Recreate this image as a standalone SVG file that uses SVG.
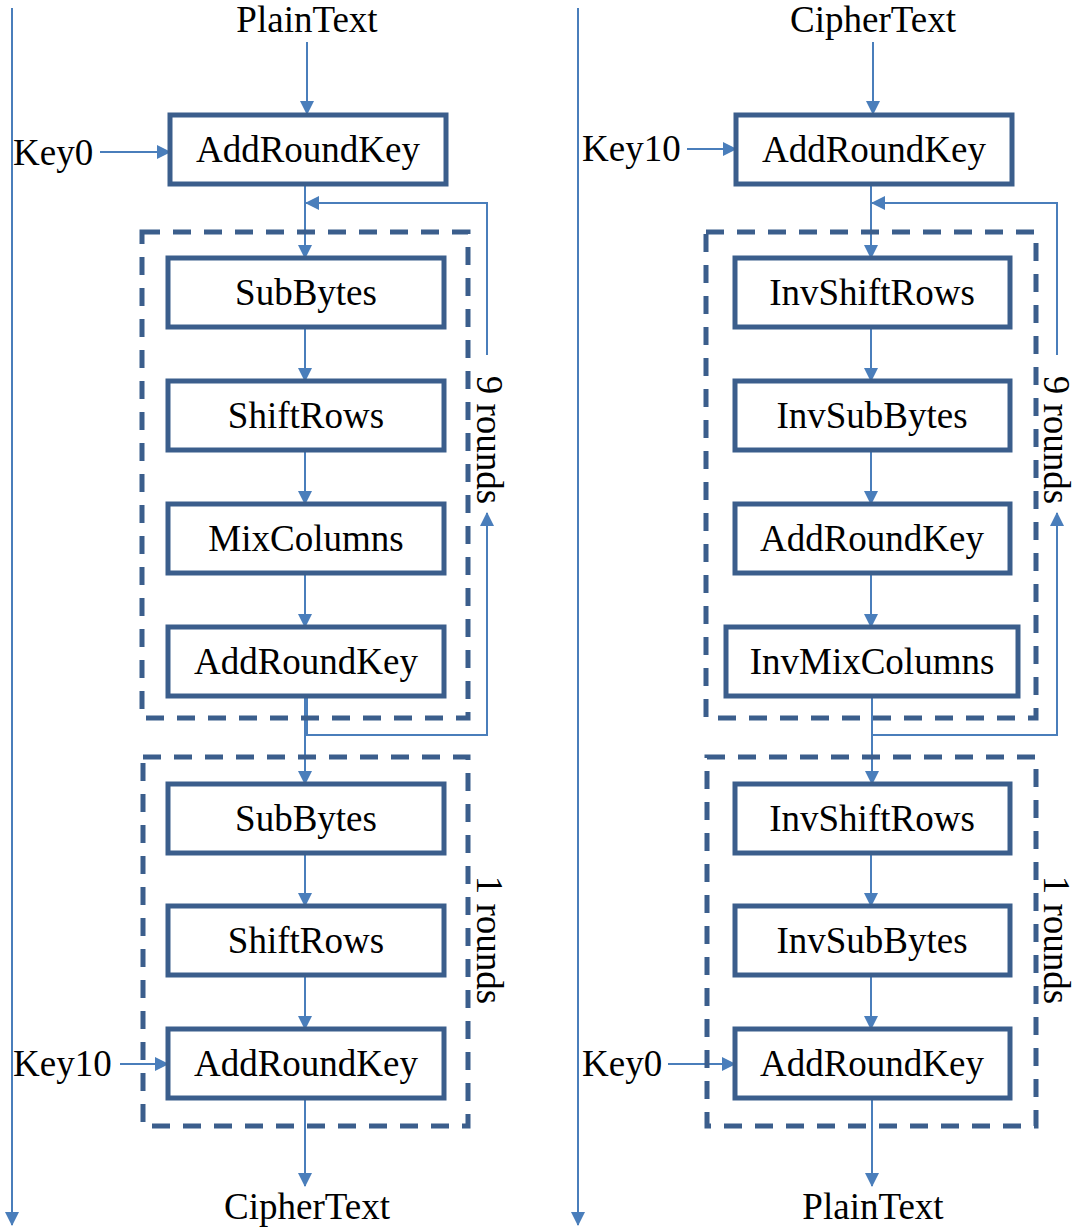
<svg xmlns="http://www.w3.org/2000/svg" width="1076" height="1227" viewBox="0 0 1076 1227">
<style>
.box{fill:#fff;stroke:#3B5E8C;stroke-width:5}
.dash{fill:none;stroke:#3B5E8C;stroke-width:5;stroke-dasharray:18 13}
.ln{fill:none;stroke:#4A7EBB;stroke-width:2}
.t{font-family:"Liberation Serif","Times New Roman",serif;font-size:37px;fill:#000;text-anchor:middle}
.k{font-family:"Liberation Serif","Times New Roman",serif;font-size:37px;fill:#000}
</style>
<defs>
<marker id="ah" markerWidth="14" markerHeight="14" refX="13" refY="7" orient="auto" markerUnits="userSpaceOnUse">
<path d="M0,0 L14,7 L0,14 Z" fill="#4A7EBB"/>
</marker>
</defs>
<rect width="1076" height="1227" fill="#fff"/>
<g id="connectors">
<path class="ln" d="M12,8 V1225" marker-end="url(#ah)"/>
<path class="ln" d="M578,8 V1225" marker-end="url(#ah)"/>
<path class="ln" d="M307,42 V114" marker-end="url(#ah)"/>
<path class="ln" d="M100,152 H170" marker-end="url(#ah)"/>
<path class="ln" d="M305,184 V258" marker-end="url(#ah)"/>
<path class="ln" d="M487,355 V203 H306" marker-end="url(#ah)"/>
<path class="ln" d="M307,696 V735 H487 V513" marker-end="url(#ah)"/>
<path class="ln" d="M305,327 V381" marker-end="url(#ah)"/>
<path class="ln" d="M305,450 V504" marker-end="url(#ah)"/>
<path class="ln" d="M305,573 V627" marker-end="url(#ah)"/>
<path class="ln" d="M305,696 V784" marker-end="url(#ah)"/>
<path class="ln" d="M305,853 V906" marker-end="url(#ah)"/>
<path class="ln" d="M305,975 V1029" marker-end="url(#ah)"/>
<path class="ln" d="M120,1064 H168" marker-end="url(#ah)"/>
<path class="ln" d="M305,1098 V1186" marker-end="url(#ah)"/>
<path class="ln" d="M873,42 V114" marker-end="url(#ah)"/>
<path class="ln" d="M687,149 H736" marker-end="url(#ah)"/>
<path class="ln" d="M871,184 V258" marker-end="url(#ah)"/>
<path class="ln" d="M1057,355 V203 H872" marker-end="url(#ah)"/>
<path class="ln" d="M872,696 V735 H1057 V513" marker-end="url(#ah)"/>
<path class="ln" d="M871,327 V381" marker-end="url(#ah)"/>
<path class="ln" d="M871,450 V504" marker-end="url(#ah)"/>
<path class="ln" d="M871,573 V627" marker-end="url(#ah)"/>
<path class="ln" d="M872,696 V784" marker-end="url(#ah)"/>
<path class="ln" d="M871,853 V906" marker-end="url(#ah)"/>
<path class="ln" d="M871,975 V1029" marker-end="url(#ah)"/>
<path class="ln" d="M668,1064 H735" marker-end="url(#ah)"/>
<path class="ln" d="M872,1098 V1186" marker-end="url(#ah)"/>
</g>
<g id="groups">
<rect class="dash" x="142" y="232" width="326" height="486"/>
<rect class="dash" x="143" y="757" width="325" height="369"/>
<rect class="dash" x="706" y="232" width="330" height="486"/>
<rect class="dash" x="707" y="757" width="329" height="369"/>
</g>
<g id="labels">
<text class="t" x="307" y="32">PlainText</text>
<text class="t" x="307" y="1219">CipherText</text>
<text class="t" x="873" y="32">CipherText</text>
<text class="t" x="873" y="1219">PlainText</text>
<text class="k" x="13" y="165">Key0</text>
<text class="k" x="13" y="1076">Key10</text>
<text class="k" x="582" y="161">Key10</text>
<text class="k" x="582" y="1076">Key0</text>
<text class="t" transform="translate(477,440) rotate(90)">9 rounds</text>
<text class="t" transform="translate(477,940) rotate(90)">1 rounds</text>
<text class="t" transform="translate(1044,440) rotate(90)">9 rounds</text>
<text class="t" transform="translate(1044,940) rotate(90)">1 rounds</text>
</g>
<g id="enc-ark0"><rect class="box" x="170" y="115" width="276" height="69"/><text class="t" x="308" y="162">AddRoundKey</text></g>
<g id="enc-sb1"><rect class="box" x="168" y="258" width="276" height="69"/><text class="t" x="306" y="305">SubBytes</text></g>
<g id="enc-sr1"><rect class="box" x="168" y="381" width="276" height="69"/><text class="t" x="306" y="428">ShiftRows</text></g>
<g id="enc-mc"><rect class="box" x="168" y="504" width="276" height="69"/><text class="t" x="306" y="551">MixColumns</text></g>
<g id="enc-ark1"><rect class="box" x="168" y="627" width="276" height="69"/><text class="t" x="306" y="674">AddRoundKey</text></g>
<g id="enc-sb2"><rect class="box" x="168" y="784" width="276" height="69"/><text class="t" x="306" y="831">SubBytes</text></g>
<g id="enc-sr2"><rect class="box" x="168" y="906" width="276" height="69"/><text class="t" x="306" y="953">ShiftRows</text></g>
<g id="enc-ark2"><rect class="box" x="168" y="1029" width="276" height="69"/><text class="t" x="306" y="1076">AddRoundKey</text></g>
<g id="dec-ark0"><rect class="box" x="736" y="115" width="276" height="69"/><text class="t" x="874" y="162">AddRoundKey</text></g>
<g id="dec-isr1"><rect class="box" x="735" y="258" width="275" height="69"/><text class="t" x="872" y="305">InvShiftRows</text></g>
<g id="dec-isb1"><rect class="box" x="735" y="381" width="275" height="69"/><text class="t" x="872" y="428">InvSubBytes</text></g>
<g id="dec-ark1"><rect class="box" x="735" y="504" width="275" height="69"/><text class="t" x="872" y="551">AddRoundKey</text></g>
<g id="dec-imc"><rect class="box" x="726" y="627" width="292" height="69"/><text class="t" x="872" y="674">InvMixColumns</text></g>
<g id="dec-isr2"><rect class="box" x="735" y="784" width="275" height="69"/><text class="t" x="872" y="831">InvShiftRows</text></g>
<g id="dec-isb2"><rect class="box" x="735" y="906" width="275" height="69"/><text class="t" x="872" y="953">InvSubBytes</text></g>
<g id="dec-ark2"><rect class="box" x="735" y="1029" width="275" height="69"/><text class="t" x="872" y="1076">AddRoundKey</text></g>
</svg>
